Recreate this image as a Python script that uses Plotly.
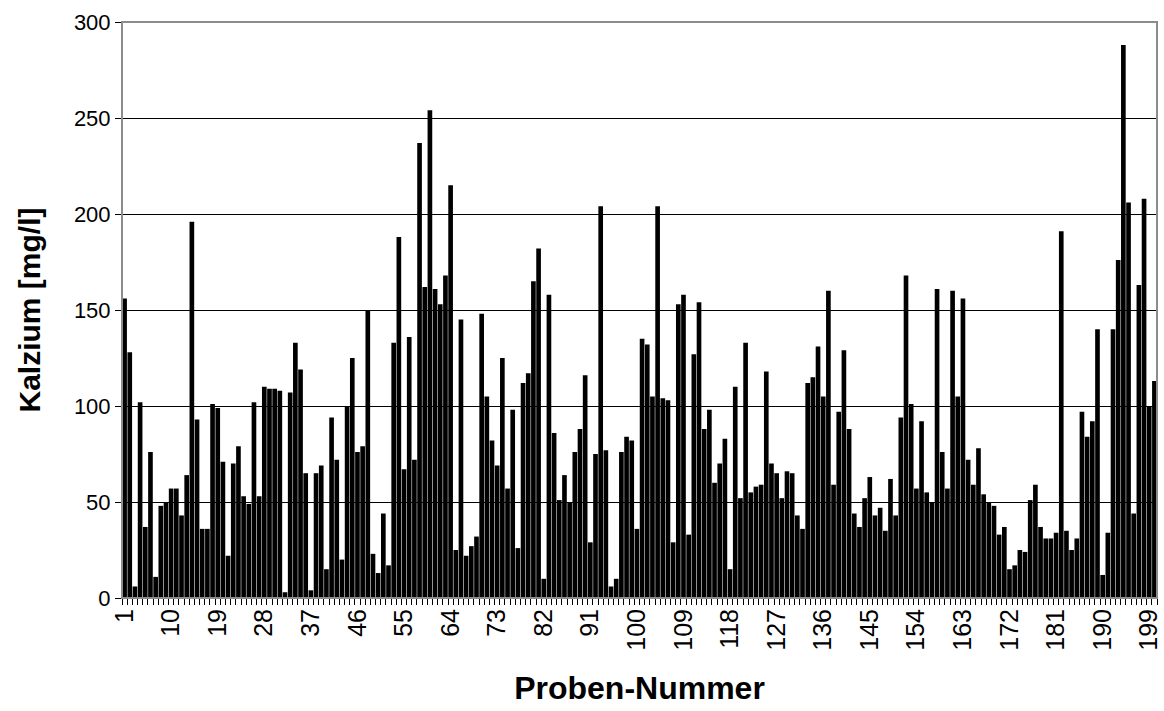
import plotly.graph_objects as go

# Calcium concentration per sample (mg/l), samples 1..200
proben = list(range(1, 201))
kalzium = [
    156, 128, 6, 102, 37, 76, 11, 48, 50, 57,
    57, 43, 64, 196, 93, 36, 36, 101, 99, 71,
    22, 70, 79, 53, 49, 102, 53, 110, 109, 109,
    108, 3, 107, 133, 119, 65, 4, 65, 69, 15,
    94, 72, 20, 100, 125, 76, 79, 150, 23, 13,
    44, 17, 133, 188, 67, 136, 72, 237, 162, 254,
    161, 153, 168, 215, 25, 145, 22, 27, 32, 148,
    105, 82, 69, 125, 57, 98, 26, 112, 117, 165,
    182, 10, 158, 86, 51, 64, 50, 76, 88, 116,
    29, 75, 204, 77, 6, 10, 76, 84, 82, 36,
    135, 132, 105, 204, 104, 103, 29, 153, 158, 33,
    127, 154, 88, 98, 60, 70, 83, 15, 110, 52,
    133, 55, 58, 59, 118, 70, 65, 52, 66, 65,
    43, 36, 112, 115, 131, 105, 160, 59, 97, 129,
    88, 44, 37, 52, 63, 43, 47, 35, 62, 43,
    94, 168, 101, 57, 92, 55, 50, 161, 76, 57,
    160, 105, 156, 72, 59, 78, 54, 50, 48, 33,
    37, 15, 17, 25, 24, 51, 59, 37, 31, 31,
    34, 191, 35, 25, 31, 97, 84, 92, 140, 12,
    34, 140, 176, 288, 206, 44, 163, 208, 100, 113,
]

x_labels = list(range(1, 200, 9))
y_ticks = [0, 50, 100, 150, 200, 250, 300]

FONT = "Liberation Sans, Arial, sans-serif"

fig = go.Figure(
    go.Bar(
        x=proben,
        y=kalzium,
        marker=dict(color="black", line=dict(width=0)),
        showlegend=False,
    )
)

fig.update_layout(
    width=1164,
    height=711,
    margin=dict(l=122, r=7, t=22, b=113, autoexpand=False),
    paper_bgcolor="white",
    plot_bgcolor="white",
    bargap=0.1,
    font=dict(family=FONT, color="black"),
    shapes=[
        dict(
            type="rect", xref="paper", yref="paper",
            x0=0, y0=0, x1=1, y1=1,
            line=dict(color="#8c8c8c", width=2), layer="above",
        )
    ],
)

fig.update_xaxes(
    range=[0.5, 200.5],
    tickmode="array",
    tickvals=x_labels,
    ticktext=[str(v) for v in x_labels],
    tickangle=-90,
    ticks="",
    tickfont=dict(size=25, family=FONT),
    showgrid=False,
    showline=True,
    linecolor="black",
    linewidth=1,
    minor=dict(ticks="outside", tick0=0.5, dtick=1, ticklen=6, tickcolor="black", tickwidth=1),
    title=dict(text="<b>Proben-Nummer</b>", font=dict(size=32, family=FONT), standoff=26),
    zeroline=False,
)

fig.update_yaxes(
    range=[0, 300],
    tickmode="array",
    tickvals=y_ticks,
    ticks="outside",
    ticklen=6,
    tickcolor="black",
    tickfont=dict(size=22, family=FONT),
    showgrid=True,
    gridcolor="black",
    gridwidth=1,
    showline=True,
    linecolor="black",
    linewidth=1,
    title=dict(text="<b>Kalzium [mg/l]</b>", font=dict(size=30, family=FONT), standoff=24),
    zeroline=False,
)

fig.write_html("out.html")
